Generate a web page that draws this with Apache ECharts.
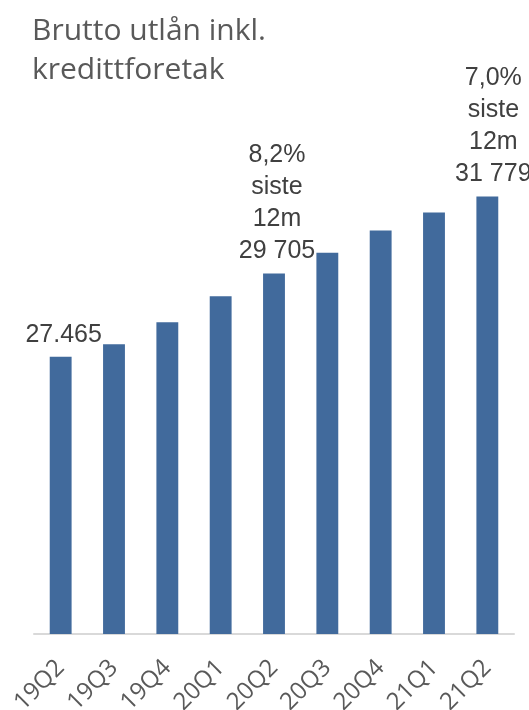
<!DOCTYPE html>
<html>
<head>
<meta charset="utf-8">
<style>
  html, body { margin: 0; padding: 0; background: #ffffff; }
  #chart { width: 529px; height: 710px; }
</style>
<script src="https://cdn.jsdelivr.net/npm/echarts@6/dist/echarts.min.js"></script>
</head>
<body>
<div id="chart"></div>
<script>
// Quarterly gross lending incl. mortgage company (NOK million)
const quarters = ['19Q2', '19Q3', '19Q4', '20Q1', '20Q2', '20Q3', '20Q4', '21Q1', '21Q2'];
const grossLending = [27465, 27800, 28390, 29090, 29705, 30265, 30865, 31350, 31779];
// Annotations shown above selected bars (empty = no label)
const barNotes = ['27.465', '', '', '', '8,2%\nsiste\n12m\n29 705', '', '', '', '7,0%\nsiste\n12m\n31 779'];

const chart = echarts.init(document.getElementById('chart'), null, { renderer: 'canvas' });

const seriesData = grossLending.map((v, i) => {
  const note = barNotes[i];
  return {
    value: v,
    label: note ? { show: true, formatter: note, offset: i === quarters.length - 1 ? [6, 0] : [3, 0] } : { show: false }
  };
});

chart.setOption({
  animation: false,
  backgroundColor: '#ffffff',
  title: {
    text: 'Brutto utlån inkl.\nkredittforetak',
    left: 27,
    top: 7,
    textStyle: {
      fontFamily: 'Open Sans',
      fontWeight: 'normal',
      fontSize: 30,
      lineHeight: 39,
      color: '#595959'
    }
  },
  grid: { left: 34, right: 15, top: 114, bottom: 76, containLabel: false, outerBoundsMode: 'none' },
  xAxis: {
    type: 'category',
    data: quarters,
    axisLine: { show: true, lineStyle: { color: '#d9d9d9', width: 2 } },
    axisTick: { show: false },
    axisLabel: {
      rotate: 45,
      margin: 30,
      fontFamily: 'Open Sans',
      fontSize: 24,
      color: '#595959',
      interval: 0
    }
  },
  yAxis: {
    type: 'value',
    min: 20000,
    max: 34000,
    show: false,
    splitLine: { show: false }
  },
  series: [{
    type: 'bar',
    data: seriesData,
    barWidth: '41%',
    itemStyle: { color: '#416A9C' },
    label: {
      position: 'top',
      distance: 6,
      fontFamily: 'Liberation Sans',
      fontSize: 25,
      lineHeight: 32,
      color: '#404040'
    }
  }]
});
</script>
</body>
</html>
